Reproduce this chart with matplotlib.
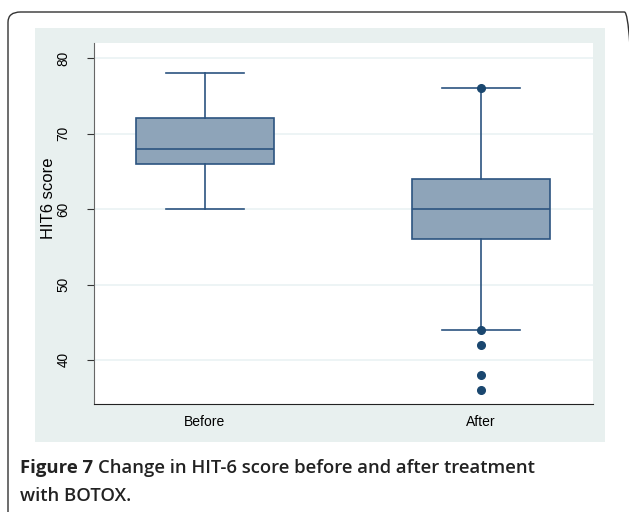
import matplotlib
matplotlib.use("Agg")
import matplotlib.pyplot as plt
from matplotlib.patches import FancyBboxPatch, Rectangle

groups = ["Before", "After"]
q1 = [66, 56]
medians = [68, 60]
q3 = [72, 64]
whisk_lo = [60, 44]
whisk_hi = [78, 76]
outliers = [[], [76, 44, 42, 38, 36]]
yticks = [40, 50, 60, 70, 80]

W, H = 629, 512
fig = plt.figure(figsize=(W / 100, H / 100), dpi=100)
fig.patch.set_facecolor("white")

# outer rounded frame
frame = FancyBboxPatch((8 / W, -0.05), 1.0, 1 - 12 / H + 0.05,
                       boxstyle="round,pad=0,rounding_size=0.02",
                       transform=fig.transFigure, fill=False,
                       edgecolor="#333333", linewidth=1.0, clip_on=False,
                       zorder=-2)
fig.patches.append(frame)

# graph region panel
panel = Rectangle((35 / W, 1 - 442 / H), (605 - 35) / W, (442 - 28) / H,
                  transform=fig.transFigure, facecolor="#E8F0EF",
                  edgecolor="none", zorder=-1)
fig.patches.append(panel)

ax = fig.add_axes([94 / W, 1 - 404 / H, (593 - 94) / W, (404 - 43) / H])
ax.set_zorder(1)
ax.set_facecolor("white")

stats = []
for i, g in enumerate(groups):
    stats.append(dict(label=g, q1=q1[i], med=medians[i], q3=q3[i],
                      whislo=whisk_lo[i], whishi=whisk_hi[i],
                      fliers=outliers[i]))

edge = "#2C5480"
ax.bxp(stats, positions=[1, 2], widths=0.5, patch_artist=True,
       showfliers=True,
       boxprops=dict(facecolor="#8EA4B9", edgecolor=edge, linewidth=1.2),
       medianprops=dict(color=edge, linewidth=1.2),
       whiskerprops=dict(color=edge, linewidth=1.2),
       capprops=dict(color=edge, linewidth=1.2),
       capwidths=0.28,
       flierprops=dict(marker="o", markerfacecolor="#1A476F",
                       markeredgecolor="#1A476F", markersize=5.5))

ax.set_xlim(0.598, 2.406)
ax.set_ylim(34.17, 82.0)
ax.set_yticks(yticks)
ax.set_yticklabels([str(t) for t in yticks], rotation=90, va="center",
                   fontsize=9.8, family="Liberation Sans")
ax.set_xticks([1, 2])
ax.set_xticklabels(groups, fontsize=10, family="Liberation Sans")
ax.tick_params(axis="x", length=0, pad=8)
ax.tick_params(axis="y", length=5, width=0.8, color="#333333", pad=12)
ax.yaxis.grid(True, color="#EAF2F3", linewidth=1.2)
ax.set_axisbelow(True)
for s in ["top", "right"]:
    ax.spines[s].set_visible(False)
ax.spines["left"].set_color("#666666")
ax.spines["bottom"].set_color("#222222")
ax.set_ylabel("HIT6 score", fontsize=12, family="Liberation Sans")
ax.yaxis.set_label_coords(-0.076, 0.57)

fs = 13.3
t1 = fig.text(20 / W, 1 - 468 / H, "Figure 7", fontsize=fs, fontweight="bold",
              family="Open Sans", va="center", ha="left", color="#222222")
fig.canvas.draw()
bb = t1.get_window_extent()
fig.text((bb.x1 + 5) / W, 1 - 468 / H,
         "Change in HIT-6 score before and after treatment",
         fontsize=fs, fontweight="semibold", family="Open Sans",
         va="center", ha="left", color="#222222")
fig.text(20 / W, 1 - 496 / H, "with BOTOX.", fontsize=fs,
         fontweight="semibold", family="Open Sans", va="center", ha="left",
         color="#222222")

fig.savefig("out.png", dpi=100)
